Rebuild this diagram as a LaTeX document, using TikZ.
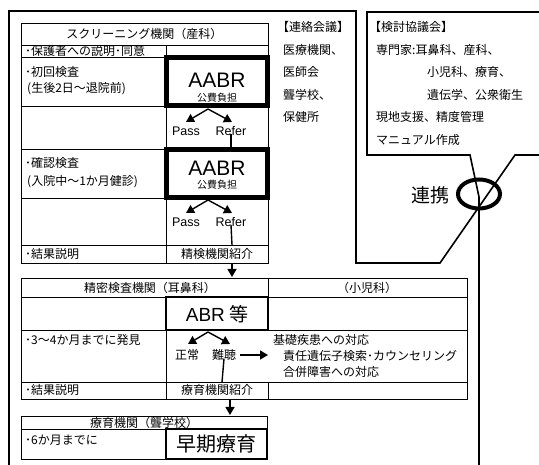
\documentclass[tikz,border=0pt]{standalone}
\usepackage{fontspec}
\setmainfont{Noto Sans CJK JP}
\newfontfamily\lat{Liberation Sans}
\usetikzlibrary{arrows.meta,shapes.geometric}
\begin{document}
\begin{tikzpicture}[x=1pt,y=-1pt,
  font=\fontsize{12}{12}\selectfont,
  tline/.style={line width=0.9pt},
  frame/.style={line width=1.6pt},
  txt/.style={inner sep=0pt,anchor=west},
  ctr/.style={inner sep=0pt},
  latin/.style={inner sep=0pt,font=\lat\fontsize{12.5}{12.5}\selectfont},
  aabrbox/.style={draw,line width=3.5pt,minimum width=102pt,minimum height=49pt,inner sep=0pt},
  bigbox/.style={draw,line width=2.4pt,inner sep=0pt},
  varr/.style={line width=1.4pt,-{Triangle[length=8pt,width=9pt]}},
  conn/.style={line width=1.4pt},
]
\useasboundingbox (0,0) rectangle (539,465);

% ---------- outer frames ----------
\draw[frame] (9,465) -- (9,11) -- (356,11) -- (356,263) -- (440,263) -- (515,155) -- (539,155);
\draw[frame] (539,12) -- (367,12) -- (367,155) -- (470,155) -- (479,197) -- (479,465);
\node[ellipse,draw,line width=4pt,minimum width=42pt,minimum height=29pt,inner sep=0pt] (renkei) at (479,194) {};
\node[ctr,font=\fontsize{19}{19}\selectfont] (renkeitxt) at (430,195) {連携};

% ---------- right texts ----------
\node[txt] (r1) at (277,27) {【連絡会議】};
\node[txt] (r2) at (283,50) {医療機関、};
\node[txt] (r3) at (283,72) {医師会};
\node[txt] (r4) at (283,95) {聾学校、};
\node[txt] (r5) at (283,117) {保健所};

\node[txt] (k1) at (369,27) {【検討協議会】};
\node[txt] (k2) at (376,50) {専門家:耳鼻科、産科、};
\node[txt] (k3) at (427,72) {小児科、療育、};
\node[txt] (k4) at (427,95) {遺伝学、公衆衛生};
\node[txt] (k5) at (376,117) {現地支援、精度管理};
\node[txt] (k6) at (376,140) {マニュアル作成};

% ---------- screening table ----------
\draw[tline] (21,23) rectangle (268,263);
\foreach \yy in {45,57,106,149,198,245} \draw[tline] (21,\yy) -- (268,\yy);
\draw[tline] (166,45) -- (166,263);
\node[ctr] (sh) at (144.5,34) {スクリーニング機関（産科）};
\node[txt] (s1) at (25,51) {･保護者への説明･同意};
\node[txt] (s2) at (25,72) {･初回検査};
\node[txt] (s3) at (27,89) {(生後2日〜退院前)};
\node[txt] (s4) at (25,163) {･確認検査};
\node[txt] (s5) at (27,182) {(入院中〜1か月健診)};
\node[txt] (s6) at (25,254) {･結果説明};

\node[aabrbox] (aabr1) at (217,81.5) {};
\draw[line width=0.8pt] ([shift={(4,4)}]aabr1.north west) rectangle ([shift={(-4,-4)}]aabr1.south east);
\node[ctr,font=\lat\fontsize{21}{21}\selectfont] (a1t) at (217,80) {AABR};
\node[ctr,font=\fontsize{10}{10}\selectfont] (a1k) at (217,98) {公費負担};

\node[aabrbox] (aabr2) at (217,173.5) {};
\draw[line width=0.8pt] ([shift={(4,4)}]aabr2.north west) rectangle ([shift={(-4,-4)}]aabr2.south east);
\node[ctr,font=\lat\fontsize{21}{21}\selectfont] (a2t) at (217,168) {AABR};
\node[ctr,font=\fontsize{10}{10}\selectfont] (a2k) at (217,185) {公費負担};

% V arrows 1
\coordinate (v1) at (208,109);
\coordinate (v1l) at (186,122);
\coordinate (v1r) at (232,122);
\draw[varr] (v1) -- (v1l);
\draw[varr] (v1) -- (v1r);
\node[latin] (pass1) at (186,131) {Pass};
\node[latin] (refer1) at (231,131) {Refer};
\draw[conn] ([yshift=2pt]refer1.south) -- (refer1.south |- aabr2.north);

% V arrows 2
\coordinate (v2) at (208,200);
\coordinate (v2l) at (186,213);
\coordinate (v2r) at (232,213);
\draw[varr] (v2) -- (v2l);
\draw[varr] (v2) -- (v2r);
\node[latin] (pass2) at (186,222) {Pass};
\node[latin] (refer2) at (231,222) {Refer};
\node[ctr] (seiken) at (217,254) {精検機関紹介};
\coordinate (seikentop) at (232,245);
\draw[conn] ([yshift=2pt]refer2.south) -- (seikentop);

% arrow to 精密
\coordinate (d1a) at (232,263);
\coordinate (d1b) at (232,277);
\draw[varr] (d1a) -- (d1b);

% ---------- 精密検査 table ----------
\draw[tline] (21,278) rectangle (467,399);
\draw[tline] (21,297) -- (467,297);
\draw[tline] (21,330) -- (467,330);
\draw[tline] (21,382) -- (467,382);
\draw[tline] (166,297) -- (166,399);
\draw[tline] (268,278) -- (268,330);
\draw[tline] (268,382) -- (268,399);
\node[ctr] (ph) at (150,288) {精密検査機関（耳鼻科）};
\node[ctr] (ph2) at (367,288) {（小児科）};
\node[bigbox,minimum width=102pt,minimum height=33pt] (abr) at (217,313.5) {};
\node[ctr,font=\fontsize{19}{19}\selectfont] (abrt) at (217,314) {{\lat ABR} 等};
\node[txt] (p1) at (25,340) {･3〜4か月までに発見};
\coordinate (v3) at (208,332);
\coordinate (v3l) at (188,344);
\coordinate (v3r) at (230,344);
\draw[varr] (v3) -- (v3l);
\draw[varr] (v3) -- (v3r);
\node[ctr] (seijo) at (187,355) {正常};
\node[ctr] (nancho) at (224,355) {難聴};
\coordinate (nanchoarr) at (268,355);
\draw[varr] ([xshift=4pt]nancho.east) -- (nanchoarr);
\node[ctr] (ryoiku) at (217,390) {療育機関紹介};
\coordinate (ryoikutop) at (222,382);
\draw[conn] ([yshift=2pt]nancho.south) -- (ryoikutop);
\node[txt] (p2) at (25,390) {･結果説明};
\node[txt] (c1) at (273,340) {基礎疾患への対応};
\node[txt] (c2) at (283,356) {責任遺伝子検索･カウンセリング};
\node[txt] (c3) at (283,372) {合併障害への対応};

% arrow to 療育
\coordinate (d2a) at (230,399);
\coordinate (d2b) at (230,415);
\draw[varr] (d2a) -- (d2b);

% ---------- 療育 table ----------
\draw[tline] (21,416) rectangle (267,459);
\draw[tline] (21,429) -- (267,429);
\draw[tline] (166,429) -- (166,459);
\node[ctr] (rh) at (144,422.5) {療育機関（聾学校）};
\node[txt] (rr) at (25,440) {･6か月までに};
\node[bigbox,minimum width=101pt,minimum height=30pt] (soki) at (216.5,444) {};
\node[ctr,font=\fontsize{20}{20}\selectfont] (sokit) at (216.5,444) {早期療育};
\end{tikzpicture}
\end{document}
